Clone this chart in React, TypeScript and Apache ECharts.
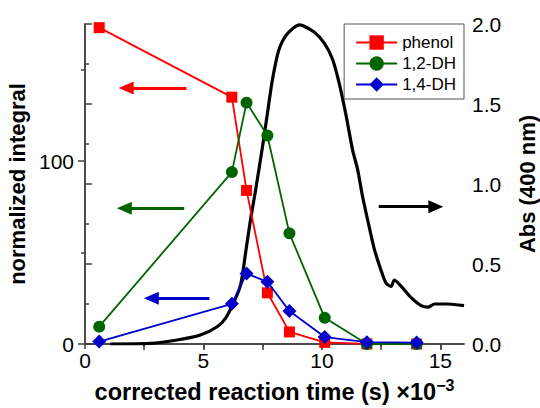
import React, { useEffect, useRef } from "react";
import * as echarts from "echarts";

// sample times (x10^-3 s)
const timeX = [0.6, 6.2, 6.82, 7.7, 8.63, 10.12, 11.9, 14.0];
const phenol = [173, 135, 84, 28, 6.6, 0.9, 0, 0];
const dh12 = [9.5, 94, 132, 114, 60.5, 14.3, 0, 0];
const dh14 = [1.3, 22, 38.5, 34, 18, 3.8, 1, 0.8];

// absorbance trace at 400 nm
const absX = [1.06, 2.75, 3.89, 4.87, 5.58, 5.93, 6.28, 6.57, 6.78, 6.99, 7.2, 7.49, 7.7, 7.91, 8.19, 8.55, 9.05, 9.67, 10.1, 10.45, 10.73, 11.02, 11.3, 11.51, 11.72, 12.0, 12.22, 12.5, 12.71, 12.92, 13.06, 13.35, 13.77, 14.19, 14.48, 14.76, 15.33, 16.0];
const absY = [0.0, 0.004, 0.025, 0.056, 0.108, 0.16, 0.26, 0.37, 0.57, 0.78, 0.96, 1.23, 1.44, 1.65, 1.84, 1.94, 1.995, 1.95, 1.88, 1.78, 1.63, 1.43, 1.21, 1.09, 0.92, 0.73, 0.59, 0.46, 0.38, 0.36, 0.40, 0.36, 0.29, 0.24, 0.23, 0.25, 0.25, 0.24];

// ticks
const xMajorTicks = [0, 5, 10, 15];
const xMinorTicks = [2.5, 7.5, 12.5];
const xTopTicks = [2.5, 5, 7.5, 10, 12.5, 15];
const yLeftMajor = [0, 100];
const yLeftMinor = [50, 150];

// annotation arrows: [xStart, xEnd, y]
const arrowPhenol = [4.28, 1.74, 140];
const arrowDh12 = [4.19, 1.66, 74.2];
const arrowDh14 = [5.25, 2.8, 25];
const arrowAbs = [12.4, 14.81, 0.858];

const FONT = "'Liberation Sans', Arial, sans-serif";
const AXIS_COLOR = "#404040";
const RED = "#ff0000";
const GREEN = "#006400";
const BLUE = "#0000cc";

function arrow(a: number[], color: string) {
  return {
    silent: true,
    symbol: ["none", "triangle"],
    symbolSize: [13, 15],
    label: { show: false },
    lineStyle: { color, width: 3, type: "solid" },
    emphasis: { disabled: true },
    data: [[{ coord: [a[0], a[2]] }, { coord: [a[1], a[2]] }]],
  };
}

export default function App() {
  const ref = useRef<HTMLDivElement>(null);
  useEffect(() => {
    if (!ref.current) return;
    const chart = echarts.init(ref.current, null, { renderer: "svg" });
    const axisLine = { show: true, lineStyle: { color: AXIS_COLOR, width: 1.5 } };
    chart.setOption({
      animation: false,
      textStyle: { fontFamily: FONT },
      grid: { left: 85, right: 76, top: 24, bottom: 64, outerBoundsMode: "none" },
      legend: {
        data: ["phenol", "1,2-DH", "1,4-DH"],
        orient: "vertical",
        right: 76,
        top: 24,
        itemWidth: 41,
        itemHeight: 18,
        itemGap: 4,
        padding: [10, 8, 6, 11],
        borderColor: "#555",
        borderWidth: 1,
        backgroundColor: "#fff",
        textStyle: { fontSize: 17, color: "#000", fontFamily: FONT },
      },
      xAxis: [
        {
          type: "value",
          min: 0,
          max: 16,
          interval: 5,
          position: "bottom",
          axisLine,
          splitLine: { show: false },
          axisTick: { show: true, inside: false, length: 5, customValues: xMajorTicks, lineStyle: { color: AXIS_COLOR, width: 1.5 } },
          axisLabel: { customValues: xMajorTicks, fontSize: 21, color: "#000", margin: 6, fontFamily: FONT },
          name: "corrected reaction time (s) ×10{sup|−3}",
          nameLocation: "middle",
          nameGap: 33,
          nameTextStyle: {
            fontSize: 23.5,
            fontWeight: "bold",
            color: "#000",
            fontFamily: FONT,
            rich: {
              sup: { fontSize: 16, fontWeight: "bold", color: "#000", fontFamily: FONT, padding: [0, 0, 14, 0] },
            },
          },
        },
        {
          type: "value",
          min: 0,
          max: 16,
          interval: 2.5,
          position: "bottom",
          axisLine: { show: false },
          splitLine: { show: false },
          axisTick: { show: true, inside: false, length: 3, customValues: xMinorTicks, lineStyle: { color: AXIS_COLOR, width: 1.5 } },
          axisLabel: { show: false },
        },
        {
          type: "value",
          min: 0,
          max: 16,
          interval: 2.5,
          position: "top",
          axisLine,
          splitLine: { show: false },
          axisTick: { show: true, inside: true, length: 6, customValues: xTopTicks, lineStyle: { color: AXIS_COLOR, width: 1.5 } },
          axisLabel: { show: false },
        },
      ],
      yAxis: [
        {
          type: "value",
          min: 0,
          max: 175,
          interval: 100,
          position: "left",
          axisLine,
          splitLine: { show: false },
          axisTick: { show: true, inside: false, length: 7, customValues: yLeftMajor, lineStyle: { color: AXIS_COLOR, width: 1.5 } },
          axisLabel: { customValues: yLeftMajor, fontSize: 21, color: "#000", margin: 11, fontFamily: FONT },
          name: "normalized integral",
          nameLocation: "middle",
          nameGap: 50,
          nameTextStyle: { fontSize: 22, fontWeight: "bold", color: "#000", fontFamily: FONT },
        },
        {
          type: "value",
          min: 0,
          max: 2,
          interval: 0.5,
          position: "right",
          axisLine,
          splitLine: { show: false },
          axisTick: { show: true, inside: false, length: 7, lineStyle: { color: AXIS_COLOR, width: 1.5 } },
          minorTick: { show: true, splitNumber: 2, length: 4, lineStyle: { color: AXIS_COLOR, width: 1.5 } },
          axisLabel: { fontSize: 21, color: "#000", margin: 8, fontFamily: FONT, formatter: (v: number) => v.toFixed(1) },
          name: "Abs (400 nm)",
          nameLocation: "middle",
          nameGap: 52,
          nameRotate: 90,
          nameTextStyle: { fontSize: 22, fontWeight: "bold", color: "#000", fontFamily: FONT },
        },
        {
          type: "value",
          min: 0,
          max: 175,
          interval: 50,
          position: "left",
          axisLine: { show: false },
          splitLine: { show: false },
          axisTick: { show: true, inside: false, length: 4, customValues: yLeftMinor, lineStyle: { color: AXIS_COLOR, width: 1.5 } },
          axisLabel: { show: false },
        },
      ],
      series: [
        {
          name: "Abs",
          type: "line",
          xAxisIndex: 0,
          yAxisIndex: 1,
          data: absX.map((x, i) => [x, absY[i]]),
          showSymbol: false,
          smooth: 0.25,
          lineStyle: { color: "#000", width: 3.2 },
          itemStyle: { color: "#000" },
          emphasis: { disabled: true },
          markLine: arrow(arrowAbs, "#000"),
          z: 2,
        },
        {
          name: "phenol",
          type: "line",
          xAxisIndex: 0,
          yAxisIndex: 0,
          data: timeX.map((x, i) => [x, phenol[i]]),
          symbol: "rect",
          symbolSize: 11,
          lineStyle: { color: RED, width: 1.8 },
          itemStyle: { color: RED },
          emphasis: { disabled: true },
          markLine: arrow(arrowPhenol, RED),
          z: 3,
        },
        {
          name: "1,2-DH",
          type: "line",
          xAxisIndex: 0,
          yAxisIndex: 0,
          data: timeX.map((x, i) => [x, dh12[i]]),
          symbol: "circle",
          symbolSize: 12,
          lineStyle: { color: GREEN, width: 1.8 },
          itemStyle: { color: GREEN },
          emphasis: { disabled: true },
          markLine: arrow(arrowDh12, GREEN),
          z: 4,
        },
        {
          name: "1,4-DH",
          type: "line",
          xAxisIndex: 0,
          yAxisIndex: 0,
          data: timeX.map((x, i) => [x, dh14[i]]),
          symbol: "diamond",
          symbolSize: 14,
          lineStyle: { color: BLUE, width: 1.8 },
          itemStyle: { color: BLUE },
          emphasis: { disabled: true },
          markLine: arrow(arrowDh14, BLUE),
          z: 5,
        },
      ],
    });
    return () => chart.dispose();
  }, []);
  return <div ref={ref} style={{ width: 540, height: 408, position: "absolute", left: 0, top: 0 }} />;
}
